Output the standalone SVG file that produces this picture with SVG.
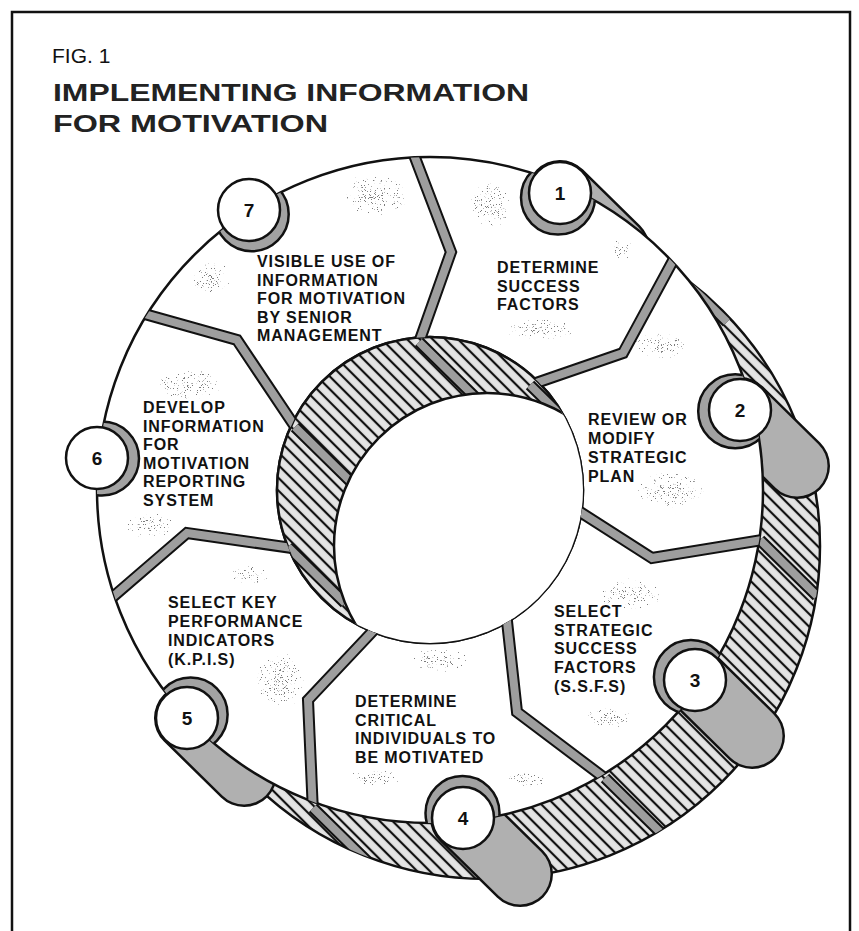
<svg xmlns="http://www.w3.org/2000/svg" width="859" height="931" viewBox="0 0 859 931">
<style>
.ln{fill:none;stroke:#111;stroke-width:2.5}
.t{font-family:"Liberation Sans",Arial,sans-serif;font-weight:bold;font-size:16px;letter-spacing:0.9px;fill:#111}
.num{font-family:"Liberation Sans",Arial,sans-serif;font-weight:bold;font-size:19px;fill:#111;text-anchor:middle}
.sepB{fill:none;stroke:#111;stroke-width:12;stroke-linejoin:miter;stroke-miterlimit:10}
.sepG{fill:none;stroke:#9e9e9e;stroke-width:8;stroke-linejoin:miter;stroke-miterlimit:10}
.tabB{stroke:#111;stroke-width:66;stroke-linecap:round}
.tabG{stroke:#b0b0b0;stroke-width:61;stroke-linecap:round}
.notch{fill:#a2a2a2;stroke:#111;stroke-width:2.5}
.disc{fill:#fff;stroke:#111;stroke-width:2.5}
.sp{fill:url(#soft);filter:url(#speck)}
</style>
<defs>
<pattern id="hatch" width="9" height="9" patternUnits="userSpaceOnUse" patternTransform="rotate(-45)">
<rect width="9" height="9" fill="#e4e4e4"/>
<line x1="3" y1="0" x2="3" y2="9" stroke="#111" stroke-width="2.2"/>
</pattern>
<radialGradient id="soft">
<stop offset="0" stop-color="#000" stop-opacity="1"/>
<stop offset="0.5" stop-color="#000" stop-opacity="0.85"/>
<stop offset="1" stop-color="#000" stop-opacity="0"/>
</radialGradient>
<filter id="speck" x="-10%" y="-10%" width="120%" height="120%">
<feTurbulence type="fractalNoise" baseFrequency="1.3" numOctaves="2" seed="7" result="n"/>
<feColorMatrix in="n" type="matrix" values="0 0 0 0 0  0 0 0 0 0  0 0 0 0 0  0 0 0 1 0" result="na"/>
<feComposite in="na" in2="SourceGraphic" operator="arithmetic" k1="1" k2="0" k3="0" k4="0" result="m"/>
<feColorMatrix in="m" type="matrix" values="0 0 0 0 0.2  0 0 0 0 0.2  0 0 0 0 0.2  0 0 0 16 -9.6"/>
</filter>
<clipPath id="cAnn"><path clip-rule="evenodd" d="M763,490A333,333 0 1,0 97,490A333,333 0 1,0 763,490ZM583,490A153,153 0 1,0 277,490A153,153 0 1,0 583,490Z"/></clipPath>
<clipPath id="cFO"><circle cx="430" cy="490" r="333"/></clipPath>
<clipPath id="cFI"><circle cx="430" cy="490" r="153"/></clipPath>
<clipPath id="cBO"><circle cx="487" cy="546" r="333"/></clipPath>
</defs>

<rect width="859" height="931" fill="#fff"/>
<path class="ln" d="M12,931V12H850V931" stroke-width="2"/>

<g id="title">
<text x="52" y="63" font-family="Liberation Sans, Arial, sans-serif" font-size="21" fill="#111">FIG. 1</text>
<text x="53" y="101" font-family="Liberation Sans, Arial, sans-serif" font-weight="bold" font-size="24" fill="#222" textLength="476" lengthAdjust="spacingAndGlyphs">IMPLEMENTING INFORMATION</text>
<text x="53" y="132" font-family="Liberation Sans, Arial, sans-serif" font-weight="bold" font-size="24" fill="#222" textLength="275" lengthAdjust="spacingAndGlyphs">FOR MOTIVATION</text>
</g>

<g id="side-wall">
<circle cx="487" cy="546" r="333" fill="url(#hatch)" stroke="#111" stroke-width="2.5"/>
<g clip-path="url(#cBO)">
<path class="sepB" d="M670,266L727,322M760,540L817,596M605,778L662,834M313,808L370,864"/>
<path class="sepG" d="M670,266L727,322M760,540L817,596M605,778L662,834M313,808L370,864"/>
</g>
</g>

<g id="tabs">
<path class="tabB" d="M560,193L617,249M740,410L797,466M695,680L752,736M463,818L520,874M187,718L244,774"/>
<path class="tabG" d="M560,193L617,249M740,410L797,466M695,680L752,736M463,818L520,874M187,718L244,774"/>
</g>

<g id="ring">
<path fill="#fff" stroke="#111" stroke-width="2.5" fill-rule="evenodd" d="M763,490A333,333 0 1,0 97,490A333,333 0 1,0 763,490ZM583,490A153,153 0 1,0 277,490A153,153 0 1,0 583,490Z"/>
<g clip-path="url(#cAnn)">
<ellipse class="sp" cx="375" cy="195" rx="60" ry="38"/>
<ellipse class="sp" cx="212" cy="278" rx="38" ry="30"/>
<ellipse class="sp" cx="490" cy="205" rx="38" ry="42"/>
<ellipse class="sp" cx="620" cy="250" rx="28" ry="18"/>
<ellipse class="sp" cx="540" cy="330" rx="65" ry="20"/>
<ellipse class="sp" cx="660" cy="345" rx="48" ry="25"/>
<ellipse class="sp" cx="670" cy="490" rx="65" ry="32"/>
<ellipse class="sp" cx="630" cy="595" rx="60" ry="28"/>
<ellipse class="sp" cx="610" cy="718" rx="45" ry="18"/>
<ellipse class="sp" cx="440" cy="660" rx="50" ry="22"/>
<ellipse class="sp" cx="375" cy="778" rx="48" ry="16"/>
<ellipse class="sp" cx="525" cy="780" rx="38" ry="14"/>
<ellipse class="sp" cx="280" cy="680" rx="48" ry="48"/>
<ellipse class="sp" cx="250" cy="575" rx="34" ry="18"/>
<ellipse class="sp" cx="190" cy="385" rx="60" ry="28"/>
<ellipse class="sp" cx="150" cy="525" rx="44" ry="25"/>
</g>
<circle cx="430" cy="490" r="153" fill="url(#hatch)" stroke="#111" stroke-width="2.5"/>
<g clip-path="url(#cFI)">
<path class="sepB" d="M419,342L476,398M295,427L352,483M288,547L345,603M530,385L587,441"/>
<path class="sepG" d="M419,342L476,398M295,427L352,483M288,547L345,603M530,385L587,441"/>
<circle cx="487" cy="546" r="153" fill="#fff" stroke="#111" stroke-width="2.5"/>
</g>
</g>

<g id="connectors" clip-path="url(#cAnn)">
<path class="sepB" d="M406,134L451,252L411,365M682,244L623,353L507,393M552,494L652,558L787,536M504,594L517,712L627,795M388,615L308,700L314,835M93,614L187,533L313,551M116,306L237,340L310,449"/>
<path class="sepG" d="M406,134L451,252L411,365M682,244L623,353L507,393M552,494L652,558L787,536M504,594L517,712L627,795M388,615L308,700L314,835M93,614L187,533L313,551M116,306L237,340L310,449"/>
</g>

<g id="node-1">
<circle class="notch" cx="558" cy="197.6" r="37" clip-path="url(#cFO)"/>
<circle class="disc" cx="560" cy="193" r="31"/>
<text class="num" x="560" y="200">1</text>
<text class="t" x="497" y="273">DETERMINE</text>
<text class="t" x="497" y="291.5">SUCCESS</text>
<text class="t" x="497" y="310">FACTORS</text>
</g>
<g id="node-2">
<circle class="notch" cx="735.2" cy="411.2" r="37" clip-path="url(#cFO)"/>
<circle class="disc" cx="740" cy="410" r="31"/>
<text class="num" x="740" y="417">2</text>
<text class="t" x="588" y="425">REVIEW OR</text>
<text class="t" x="588" y="444">MODIFY</text>
<text class="t" x="588" y="463">STRATEGIC</text>
<text class="t" x="588" y="482">PLAN</text>
</g>
<g id="node-3">
<circle class="notch" cx="690.9" cy="677.1" r="37" clip-path="url(#cFO)"/>
<circle class="disc" cx="695" cy="680" r="31"/>
<text class="num" x="695" y="687">3</text>
<text class="t" x="554" y="617">SELECT</text>
<text class="t" x="554" y="635.5">STRATEGIC</text>
<text class="t" x="554" y="654">SUCCESS</text>
<text class="t" x="554" y="673">FACTORS</text>
<text class="t" x="554" y="692">(S.S.F.S)</text>
</g>
<g id="node-4">
<circle class="notch" cx="462.5" cy="813" r="37" clip-path="url(#cFO)"/>
<circle class="disc" cx="463" cy="818" r="31"/>
<text class="num" x="463" y="825">4</text>
<text class="t" x="355" y="707">DETERMINE</text>
<text class="t" x="355" y="725.5">CRITICAL</text>
<text class="t" x="355" y="744">INDIVIDUALS TO</text>
<text class="t" x="355" y="762.5">BE MOTIVATED</text>
</g>
<g id="node-5">
<circle class="notch" cx="190.6" cy="714.6" r="37" clip-path="url(#cFO)"/>
<circle class="disc" cx="187" cy="718" r="31"/>
<text class="num" x="187" y="725">5</text>
<text class="t" x="168" y="608">SELECT KEY</text>
<text class="t" x="168" y="627">PERFORMANCE</text>
<text class="t" x="168" y="645.5">INDICATORS</text>
<text class="t" x="168" y="665">(K.P.I.S)</text>
</g>
<g id="node-6">
<circle class="notch" cx="102" cy="458.5" r="37" clip-path="url(#cFO)"/>
<circle class="disc" cx="97" cy="458" r="31"/>
<text class="num" x="97" y="465">6</text>
<text class="t" x="143" y="413">DEVELOP</text>
<text class="t" x="143" y="431.5">INFORMATION</text>
<text class="t" x="143" y="450">FOR</text>
<text class="t" x="143" y="468.5">MOTIVATION</text>
<text class="t" x="143" y="487">REPORTING</text>
<text class="t" x="143" y="505.5">SYSTEM</text>
</g>
<g id="node-7">
<circle class="notch" cx="251.7" cy="214.2" r="37" clip-path="url(#cFO)"/>
<circle class="disc" cx="249" cy="210" r="31"/>
<text class="num" x="249" y="217">7</text>
<text class="t" x="257" y="267">VISIBLE USE OF</text>
<text class="t" x="257" y="285.5">INFORMATION</text>
<text class="t" x="257" y="304">FOR MOTIVATION</text>
<text class="t" x="257" y="322.5">BY SENIOR</text>
<text class="t" x="257" y="341">MANAGEMENT</text>
</g>
</svg>
